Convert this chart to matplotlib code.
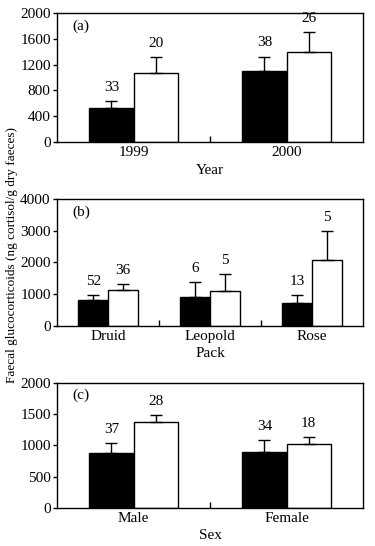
import numpy as np
import matplotlib
matplotlib.use("Agg")
import matplotlib.pyplot as plt

plt.rcParams['font.family'] = ['Liberation Serif', 'DejaVu Serif']
plt.rcParams['font.size'] = 11

# (a) year
years = ['1999', '2000']
year_black = [525, 1100]
year_black_err = [107, 221]
year_white = [1065, 1389]
year_white_err = [247, 312]
year_n_black = ['33', '38']
year_n_white = ['20', '26']

# (b) pack
packs = ['Druid', 'Leopold', 'Rose']
pack_black = [813, 908, 718]
pack_black_err = [149, 465, 244]
pack_white = [1130, 1088, 2069]
pack_white_err = [180, 538, 918]
pack_n_black = ['52', '6', '13']
pack_n_white = ['36', '5', '5']

# (c) sex
sexes = ['Male', 'Female']
sex_black = [878, 894]
sex_black_err = [155, 187]
sex_white = [1368, 1017]
sex_white_err = [112, 111]
sex_n_black = ['37', '34']
sex_n_white = ['28', '18']

fig = plt.figure(figsize=(3.75, 5.46), dpi=100)
left, width = 0.152, 0.816
ax_a = fig.add_axes([left, 0.7394, width, 0.2374])
ax_b = fig.add_axes([left, 0.4035, width, 0.2315])
ax_c = fig.add_axes([left, 0.0696, width, 0.2295])

w = 0.29


def panel(ax, cats, blk, blk_err, wht, wht_err, n_b, n_w, ymax, step, tag, xlab):
    x = np.arange(len(cats)) + 0.5
    ax.bar(x - w / 2, blk, w, color='black', edgecolor='black', linewidth=1)
    ax.bar(x + w / 2, wht, w, color='white', edgecolor='black', linewidth=1)
    ax.errorbar(x - w / 2, blk, yerr=[np.zeros(len(blk)), blk_err], fmt='none',
                ecolor='black', elinewidth=1, capsize=4, capthick=1)
    ax.errorbar(x + w / 2, wht, yerr=[np.zeros(len(wht)), wht_err], fmt='none',
                ecolor='black', elinewidth=1, capsize=4, capthick=1)
    for xi, v, e, t in zip(x - w / 2, blk, blk_err, n_b):
        ax.annotate(t, (xi, v + e), xytext=(0, 10), textcoords='offset points',
                    ha='center', va='center')
    for xi, v, e, t in zip(x + w / 2, wht, wht_err, n_w):
        ax.annotate(t, (xi, v + e), xytext=(0, 10), textcoords='offset points',
                    ha='center', va='center')
    ax.set_xlim(0, len(cats))
    ax.set_ylim(0, ymax)
    ax.set_yticks(np.arange(0, ymax + 1, step))
    ax.tick_params(axis='y', direction='out', length=3, width=1, pad=1.5)
    # category separators as inward ticks, labels at centres
    ax.set_xticks(np.arange(1, len(cats)))
    ax.set_xticklabels([])
    ax.tick_params(axis='x', direction='in', length=4, width=1)
    ax.set_xticks(x, minor=True)
    ax.set_xticklabels(cats, minor=True)
    ax.tick_params(axis='x', which='minor', length=0, pad=3)
    ax.set_xlabel(xlab, labelpad=3)
    ax.text(0.05, 0.87, tag, transform=ax.transAxes)
    for s in ax.spines.values():
        s.set_linewidth(1)


panel(ax_a, years, year_black, year_black_err, year_white, year_white_err,
      year_n_black, year_n_white, 2000, 400, '(a)', 'Year')
panel(ax_b, packs, pack_black, pack_black_err, pack_white, pack_white_err,
      pack_n_black, pack_n_white, 4000, 1000, '(b)', 'Pack')
panel(ax_c, sexes, sex_black, sex_black_err, sex_white, sex_white_err,
      sex_n_black, sex_n_white, 2000, 500, '(c)', 'Sex')

fig.text(0.032, 0.533, 'Faecal glucocorticoids (ng cortisol/g dry faeces)',
         rotation=90, ha='center', va='center', fontsize=9.5)

fig.savefig('out.png', dpi=100)
